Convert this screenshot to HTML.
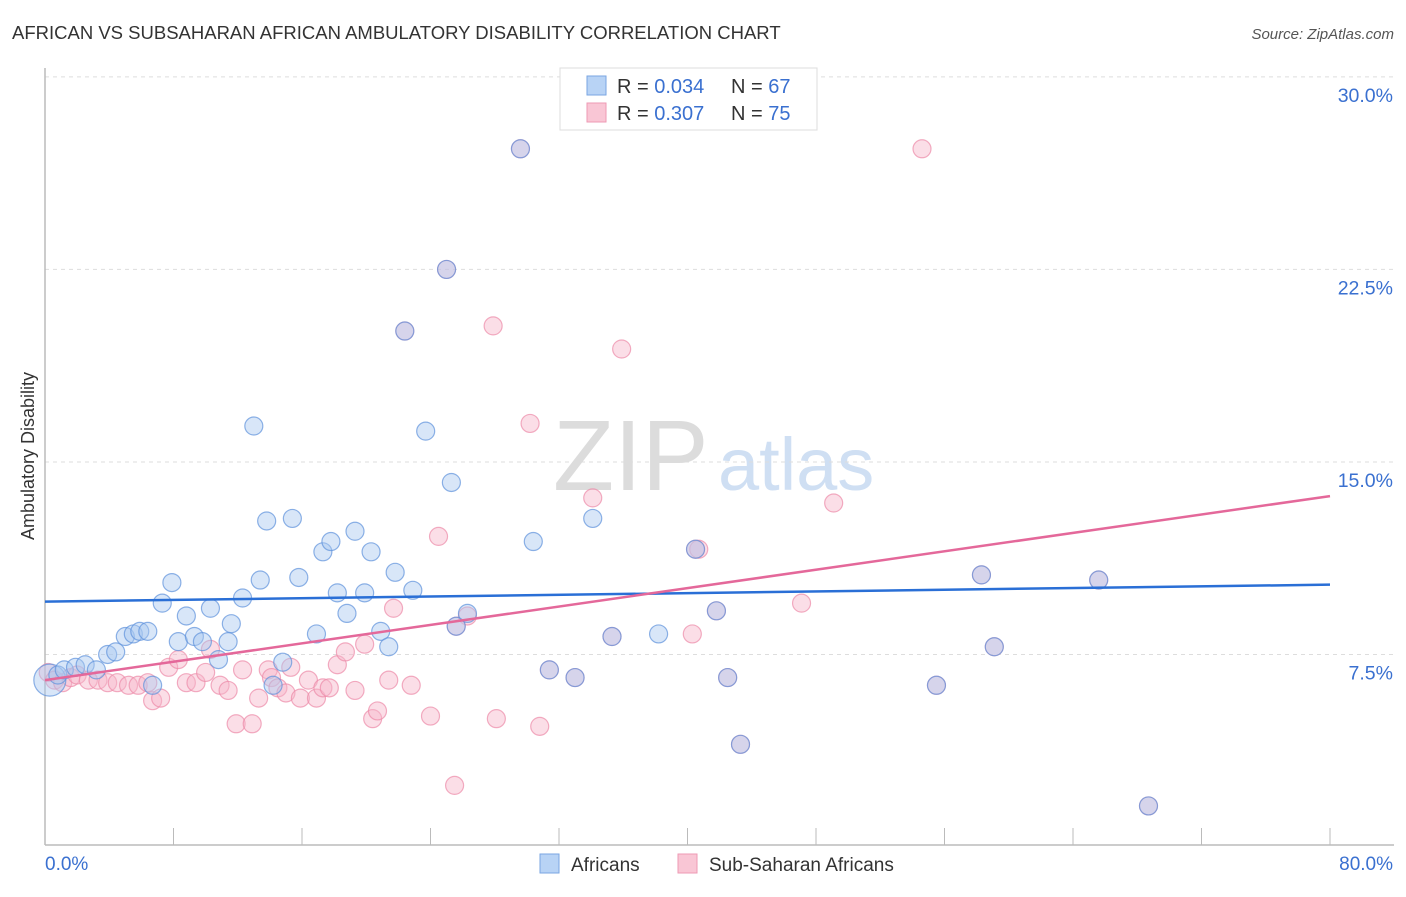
<!DOCTYPE html>
<html><head><meta charset="utf-8"><style>
body{margin:0;background:#fff;font-family:"Liberation Sans",sans-serif}
svg text{font-family:"Liberation Sans",sans-serif}
</style></head><body>
<svg width="1406" height="892" xmlns="http://www.w3.org/2000/svg">
<text x="12" y="39" font-size="18.5" fill="#333">AFRICAN VS SUBSAHARAN AFRICAN AMBULATORY DISABILITY CORRELATION CHART</text>
<text x="1394" y="39" font-size="15" fill="#555" font-style="italic" text-anchor="end">Source: ZipAtlas.com</text>
<text x="553" y="490" font-size="100" fill="#dcdcdc" font-family="Liberation Serif">ZIP</text>
<text x="718" y="490" font-size="74" fill="#cfdff3">atlas</text>
<g id="grid"></g>
<g id="axes"></g>
<g id="pts"></g>
<g id="lines"></g>
<text transform="translate(34,456) rotate(-90)" font-size="18" fill="#333" text-anchor="middle">Ambulatory Disability</text>
<g>
<rect x="560" y="68" width="257" height="62" fill="#fff" stroke="#ddd"/>
<rect x="587" y="76" width="19" height="19" fill="#b8d3f5" stroke="#7aa6e2"/>
<rect x="587" y="103" width="19" height="19" fill="#f9c6d5" stroke="#ee9ab4"/>
<text x="617" y="93" font-size="20" fill="#333">R = <tspan fill="#3a70d0">0.034</tspan><tspan x="731">N = </tspan><tspan fill="#3a70d0">67</tspan></text>
<text x="617" y="120" font-size="20" fill="#333">R = <tspan fill="#3a70d0">0.307</tspan><tspan x="731">N = </tspan><tspan fill="#3a70d0">75</tspan></text>
</g>
<g>
<rect x="540" y="854" width="19" height="19" fill="#b8d3f5" stroke="#7aa6e2"/>
<text x="571" y="871" font-size="19" fill="#333">Africans</text>
<rect x="678" y="854" width="19" height="19" fill="#f9c6d5" stroke="#ee9ab4"/>
<text x="709" y="871" font-size="19" fill="#333">Sub-Saharan Africans</text>
</g>
</svg>
<script>
const xTicks=[0,10,20,30,40,50,60,70,80];
const yTicks=[7.5,15,22.5,30];
const yTickLabels=["7.5%","15.0%","22.5%","30.0%"];
const blueX=[0.3,0.8,1.2,1.9,2.5,3.2,3.9,4.4,5.0,5.5,5.9,6.4,6.7,7.3,7.9,8.3,8.8,9.3,9.8,10.3,10.8,11.4,11.6,12.3,13.0,13.4,13.8,14.2,14.8,15.4,15.8,16.9,17.3,17.8,18.2,18.8,19.3,19.9,20.3,20.9,21.4,21.8,22.4,22.9,23.7,25.0,25.3,25.6,26.3,29.6,30.4,31.4,33.0,34.1,35.3,38.2,40.5,41.8,42.5,43.3,55.5,58.3,59.1,65.6,68.7];
const blueY=[6.5,6.7,6.9,7.0,7.1,6.9,7.5,7.6,8.2,8.3,8.4,8.4,6.3,9.5,10.3,8.0,9.0,8.2,8.0,9.3,7.3,8.0,8.7,9.7,16.4,10.4,12.7,6.3,7.2,12.8,10.5,8.3,11.5,11.9,9.9,9.1,12.3,9.9,11.5,8.4,7.8,10.7,20.1,10.0,16.2,22.5,14.2,8.6,9.1,27.2,11.9,6.9,6.6,12.8,8.2,8.3,11.6,9.2,6.6,4.0,6.3,10.6,7.8,10.4,1.6];
const pinkX=[0.2,0.6,1.1,1.6,2.0,2.7,3.3,3.9,4.5,5.2,5.8,6.4,6.7,7.2,7.7,8.3,8.8,9.4,10.0,10.3,10.9,11.4,11.9,12.3,12.9,13.3,13.9,14.1,14.5,15.0,15.3,15.9,16.4,16.9,17.3,17.7,18.2,18.7,19.3,19.9,20.4,20.7,21.4,21.7,22.8,24.0,24.5,25.5,26.3,27.9,28.1,30.2,30.8,34.1,35.9,40.3,40.7,47.1,49.1,54.6,29.6,25.0,22.4,25.6,35.3,31.4,33.0,40.5,41.8,42.5,43.3,55.5,58.3,59.1,65.6,68.7];
const pinkY=[6.8,6.5,6.4,6.6,6.7,6.5,6.5,6.4,6.4,6.3,6.3,6.4,5.7,5.8,7.0,7.3,6.4,6.4,6.8,7.7,6.3,6.1,4.8,6.9,4.8,5.8,6.9,6.6,6.2,6.0,7.0,5.8,6.5,5.8,6.2,6.2,7.1,7.6,6.1,7.9,5.0,5.3,6.5,9.3,6.3,5.1,12.1,2.4,9.0,20.3,5.0,16.5,4.7,13.6,19.4,8.3,11.6,9.5,13.4,27.2,27.2,22.5,20.1,8.6,8.2,6.9,6.6,11.6,9.2,6.6,4.0,6.3,10.6,7.8,10.4,1.6];
const blueTrend=[9.56,10.22];
const pinkTrend=[6.5,13.67];
const NS="http://www.w3.org/2000/svg";
const X0=45,X1=1330,Y0=847,PXY=25.67;
function sx(v){return X0+(v/80)*(X1-X0);}
function sy(v){return Y0-v*PXY;}
function mk(tag,attrs,parent){const e=document.createElementNS(NS,tag);for(const k in attrs)e.setAttribute(k,attrs[k]);parent.appendChild(e);return e;}
const grid=document.getElementById('grid'),axes=document.getElementById('axes'),pts=document.getElementById('pts'),lines=document.getElementById('lines');
yTicks.forEach((t,i)=>{
 const l=mk('line',{x1:X0,x2:1394,y1:sy(t),y2:sy(t),stroke:'#ddd','stroke-dasharray':'4,4'},grid);
 
 
 const tx=mk('text',{x:1393,y:sy(t)+25,'font-size':19.5,fill:'#3a70d0','text-anchor':'end'},grid);
 tx.textContent=yTickLabels[i];
 
 
});
const ya=mk('line',{x1:X0,x2:X0,y1:68,y2:845,stroke:'#bbb','stroke-width':1.5},axes);


const xa=mk('line',{x1:X0,x2:1394,y1:845,y2:845,stroke:'#bbb','stroke-width':1.5},axes);


for(let v=0;v<=80;v+=8){const t=mk('line',{x1:sx(v),x2:sx(v),y1:828,y2:845,stroke:'#bbb'},axes);
 
 }
const l0=mk('text',{x:45,y:870,'font-size':19,fill:'#3a70d0'},axes);l0.textContent='0.0%';


const l1=mk('text',{x:1393,y:870,'font-size':19,fill:'#3a70d0','text-anchor':'end'},axes);l1.textContent='80.0%';


function series(xs,ys,fill,stroke,name){xs.forEach((x,i)=>{
 const c=mk('circle',{cx:sx(x),cy:sy(ys[i]),r:(i===0&&name==='africans-point')?16:9,fill:fill,'fill-opacity':0.45,stroke:stroke,'stroke-opacity':0.7,'stroke-width':1.2},pts);
 
 });}
series(pinkX,pinkY,'#f6b6c9','#ec8aa8','subsaharan-point');
series(blueX,blueY,'#a9c8f0','#5e92dc','africans-point');
const bt=mk('line',{x1:sx(0),x2:sx(80),y1:sy(blueTrend[0]),y2:sy(blueTrend[1]),stroke:'#2a6fd6','stroke-width':2.5},lines);


const pt=mk('line',{x1:sx(0),x2:sx(80),y1:sy(pinkTrend[0]),y2:sy(pinkTrend[1]),stroke:'#e4689a','stroke-width':2.5},lines);


</script>
</body></html>
